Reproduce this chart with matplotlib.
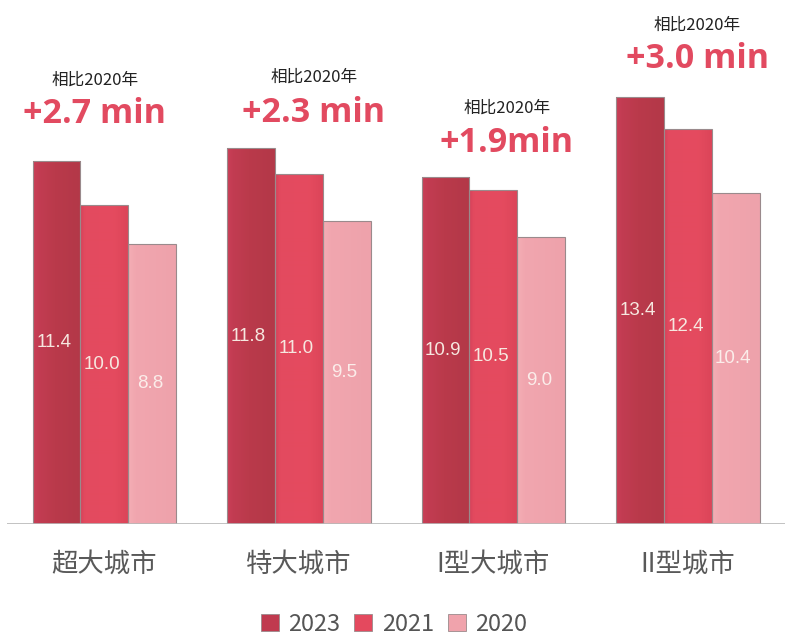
import matplotlib

matplotlib.use("Agg")

import matplotlib.pyplot as plt
import numpy as np
from matplotlib.colors import LinearSegmentedColormap
from matplotlib.patches import Rectangle

plt.rcParams["font.family"] = ["Noto Sans CJK SC", "DejaVu Sans"]

# commute time by city tier, minutes
categories = ["超大城市", "特大城市", "I型大城市", "II型城市"]
years = ["2023", "2021", "2020"]
values_2023 = [11.4, 11.8, 10.9, 13.4]
values_2021 = [10.0, 11.0, 10.5, 12.4]
values_2020 = [8.8, 9.5, 9.0, 10.4]
change_labels = ["+2.7 min", "+2.3 min", "+1.9min", "+3.0 min"]
change_note = "相比2020年"

series = [values_2023, values_2021, values_2020]
colors = ["#C03A4F", "#E4495E", "#F0A3AC"]
# left-to-right shading stops for each series
shading = [
    [(0.0, "#CA3F57"), (0.12, "#C23C52"), (0.45, "#BA3A4B"), (1.0, "#B33848")],
    [(0.0, "#D6425A"), (0.1, "#E34A5F"), (0.7, "#E54B5F"), (1.0, "#DC4559")],
    [(0.0, "#F4AEB6"), (0.15, "#F1A6AF"), (1.0, "#EEA2AB")],
]
label_colors = ["#F6E8E0", "#F6E8E0", "#FBEDEA"]

fig = plt.figure(figsize=(7.85, 6.36), dpi=100)
ax = fig.add_axes([0.009, 0.176, 0.991, 0.824])
ax.set_xlim(-0.5, 3.5)
ax.set_ylim(0, 16.45)

width = 0.246
x = np.arange(len(categories))


def gradient_bar(ax, x0, h, cmap):
    img = np.linspace(0, 1, 96)[None, :]
    im = ax.imshow(img, extent=[x0, x0 + width, 0, h], aspect="auto",
                   cmap=cmap, vmin=0, vmax=1, zorder=2)
    rect = Rectangle((x0, 0), width, h, facecolor="none", edgecolor="#9A8A8C",
                     linewidth=0.8, zorder=3)
    ax.add_patch(rect)
    im.set_clip_path(rect)


for i, vals in enumerate(series):
    cmap = LinearSegmentedColormap.from_list(f"shade{i}", shading[i])
    xs = x + (i - 1) * width
    ax.bar(xs, vals, width, color=colors[i], label=years[i], zorder=1, alpha=0)
    for xi, v in zip(xs, vals):
        gradient_bar(ax, xi - width / 2, v, cmap)
        ax.text(xi - 0.012, v / 2, f"{v:.1f}", ha="center", va="center",
                fontsize=13.5, color=label_colors[i], family="Liberation Sans",
                zorder=4)

# change versus 2020, placed above the 2023 bar of each group
text_dx = [-0.05, 0.077, 0.07, 0.05]
note_dy = [2.38, 2.08, 2.0, 2.11]
big_dy = [1.19, 0.82, 0.78, 0.92]
for xi, top, txt, dx, ndy, bdy in zip(x, values_2023, change_labels,
                                      text_dx, note_dy, big_dy):
    ax.text(xi + dx, top + ndy, change_note, ha="center", va="baseline",
            fontsize=12, color="#222222")
    ax.text(xi + dx, top + bdy, txt, ha="center", va="baseline",
            fontsize=24.5, fontweight="bold", color="#E24A60",
            family="Open Sans")

ax.axhline(0, color="#B8B8B8", linewidth=1.2, zorder=5)
ax.set_xticks(x)
ax.set_xticklabels(categories, fontsize=19, color="#595959")
ax.tick_params(axis="x", length=0, pad=19)
ax.set_yticks([])
for s in ax.spines.values():
    s.set_visible(False)

handles = [Rectangle((0, 0), 1, 1, facecolor=c, edgecolor="#9A8A8C", linewidth=0.6)
           for c in colors]
fig.legend(handles, years, loc="center", bbox_to_anchor=(0.502, 0.018),
           ncol=3, frameon=False, fontsize=17, handlelength=0.75,
           handleheight=0.75, handletextpad=0.4, columnspacing=0.6,
           labelcolor="#555555")

fig.savefig("out.png", dpi=100)
